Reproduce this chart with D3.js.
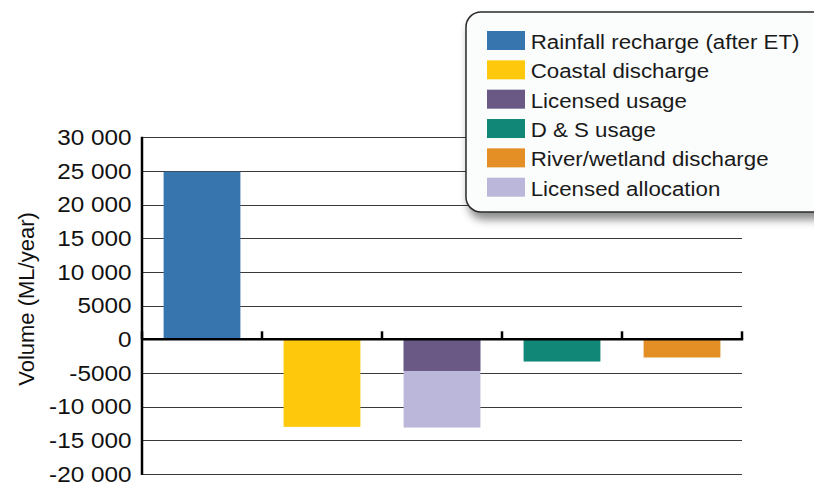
<!DOCTYPE html>
<html>
<head>
<meta charset="utf-8">
<script src="https://cdn.jsdelivr.net/npm/d3@7"></script>
<style>
  html, body { margin: 0; padding: 0; background: #ffffff; }
  svg { display: block; }
  text { font-family: "Liberation Sans", Arial, sans-serif; }
</style>
</head>
<body>
<svg id="chart" width="814" height="487"></svg>
<script>
// ---- data ----
const categories = ["Recharge", "Coastal", "Licensed", "D & S", "River/wetland"];
const seriesNames = ["Rainfall recharge (after ET)", "Coastal discharge", "Licensed usage", "D & S usage", "River/wetland discharge", "Licensed allocation"];
const seriesColors = ["#3775ae", "#fec90c", "#695984", "#118877", "#e38f26", "#bbb7da"];
const seriesCategory = ["Recharge", "Coastal", "Licensed", "D & S", "River/wetland", "Licensed"];
const seriesValues = [24900, -13000, -4700, -3300, -2700, -13100];
// draw order: allocation behind usage
const drawOrder = [5, 0, 1, 2, 3, 4];
const yTicks = [30000, 25000, 20000, 15000, 10000, 5000, 0, -5000, -10000, -15000, -20000];
const yTickLabels = ["30 000", "25 000", "20 000", "15 000", "10 000", "5000", "0", "-5000", "-10 000", "-15 000", "-20 000"];
const yTitle = "Volume (ML/year)";

// ---- layout ----
const svg = d3.select("#chart");
const plotLeft = 142, plotRight = 742, plotTop = 137.3, plotBottom = 474;

const x = d3.scaleBand().domain(categories).range([plotLeft, plotRight]).paddingInner(0.36).paddingOuter(0.18);
const y = d3.scaleLinear().domain([-20000, 30000]).range([plotBottom, plotTop]);

// gridlines
svg.append("g").selectAll("line").data(yTicks).join("line")
  .attr("x1", plotLeft).attr("x2", plotRight)
  .attr("y1", d => Math.round(y(d)) + 0.5).attr("y2", d => Math.round(y(d)) + 0.5)
  .attr("stroke", "#3a3a3a").attr("stroke-width", 1.2);

// bars
svg.append("g").selectAll("rect").data(drawOrder).join("rect")
  .attr("x", i => x(seriesCategory[i]))
  .attr("width", x.bandwidth())
  .attr("y", i => y(Math.max(0, seriesValues[i])))
  .attr("height", i => Math.abs(y(seriesValues[i]) - y(0)))
  .attr("fill", i => seriesColors[i]);

// zero axis with upward ticks at band boundaries
const boundaries = categories.map((c, i) => plotLeft + i * x.step());
boundaries.push(plotRight);
svg.append("line").attr("x1", plotLeft).attr("x2", plotRight + 1.2)
  .attr("y1", y(0)).attr("y2", y(0)).attr("stroke", "#000").attr("stroke-width", 2.5);
svg.append("g").selectAll("line").data(boundaries).join("line")
  .attr("x1", d => d).attr("x2", d => d)
  .attr("y1", y(0)).attr("y2", y(0) - 8)
  .attr("stroke", "#000").attr("stroke-width", 2.5);

// y axis line
svg.append("line").attr("x1", plotLeft).attr("x2", plotLeft)
  .attr("y1", plotTop - 0.5).attr("y2", plotBottom + 1).attr("stroke", "#000").attr("stroke-width", 2.5);

// y tick labels
svg.append("g").selectAll("text").data(yTicks).join("text")
  .attr("transform", d => `translate(131.5,${y(d) + 7.6}) scale(1.13,1)`)
  .attr("text-anchor", "end")
  .attr("font-size", 21.5)
  .attr("fill", "#111")
  .text((d, i) => yTickLabels[i]);

// y title
svg.append("text")
  .attr("transform", `translate(34,299) rotate(-90)`)
  .attr("text-anchor", "middle")
  .attr("font-size", 22)
  .attr("fill", "#111")
  .text(yTitle);

// legend
const defs = svg.append("defs");
const f = defs.append("filter").attr("id", "shadow").attr("x", "-20%").attr("y", "-20%").attr("width", "140%").attr("height", "150%");
f.append("feDropShadow").attr("dx", 3).attr("dy", 7).attr("stdDeviation", 4).attr("flood-color", "#000").attr("flood-opacity", 0.45);

svg.append("rect")
  .attr("x", 466).attr("y", 12).attr("width", 380).attr("height", 200)
  .attr("rx", 15).attr("ry", 15)
  .attr("fill", "#fbfcfc").attr("stroke", "#2a2a2a").attr("stroke-width", 1.5)
  .attr("filter", "url(#shadow)");

const legendIdx = d3.range(seriesNames.length);
const lg = svg.append("g").selectAll("g").data(legendIdx).join("g")
  .attr("transform", i => `translate(487,${31 + i * 29.34})`);
lg.append("rect").attr("width", 38).attr("height", 19).attr("fill", i => seriesColors[i]);
lg.append("text").attr("transform", "translate(43.7,18) scale(1.115,1)")
  .attr("font-size", 20).attr("fill", "#1a1a1a")
  .text(i => seriesNames[i]);
</script>
</body>
</html>
